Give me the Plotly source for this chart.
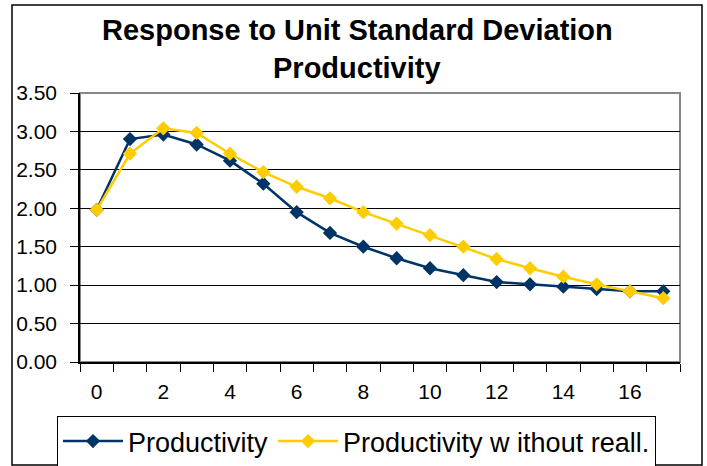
import plotly.graph_objects as go

periods = list(range(18))
productivity = [1.98, 2.90, 2.96, 2.83, 2.62, 2.32, 1.95, 1.68, 1.50, 1.35, 1.22, 1.13, 1.04, 1.01, 0.98, 0.95, 0.92, 0.92]
productivity_no_reall = [1.98, 2.71, 3.04, 2.98, 2.71, 2.47, 2.28, 2.13, 1.95, 1.80, 1.65, 1.50, 1.34, 1.22, 1.11, 1.01, 0.92, 0.83]
x_tick_labels = [str(v) for v in range(0, 17, 2)]
series_names = ["Productivity", "Productivity w ithout reall."]
title_lines = ["Response to Unit Standard Deviation", "Productivity"]

FONT = "Arial, 'Liberation Sans', sans-serif"
NAVY = "#003366"
YELLOW = "#FFCC00"

fig = go.Figure()
fig.add_trace(go.Scatter(x=periods, y=productivity, name=series_names[0], mode="lines+markers",
                         line=dict(color=NAVY, width=2.5),
                         marker=dict(symbol="diamond", size=11, color=NAVY)))
fig.add_trace(go.Scatter(x=periods, y=productivity_no_reall, name=series_names[1], mode="lines+markers",
                         line=dict(color=YELLOW, width=2.5),
                         marker=dict(symbol="diamond", size=11, color=YELLOW)))

L, R, T, B = 80, 27, 93, 104
W, H = 707, 466
pw, ph = W - L - R, H - T - B

def px(x):
    return (x - L) / pw

def py(y):
    return (H - B - y) / ph

fig.update_layout(
    width=W, height=H,
    margin=dict(l=L, r=R, t=T, b=B, autoexpand=False),
    paper_bgcolor="white", plot_bgcolor="white",
    font=dict(family=FONT, color="black", size=21),
    showlegend=True,
    legend=dict(orientation="h", x=px(57), y=py(416), xanchor="left", yanchor="top",
                bordercolor="black", borderwidth=1, font=dict(size=27, family=FONT),
                itemwidth=60, tracegroupgap=0, bgcolor="white"),
    xaxis=dict(range=[-0.5, 17.5], tickmode="array", tickvals=list(range(0, 17, 2)),
               ticktext=x_tick_labels, ticks="", showgrid=False, zeroline=False,
               showline=True, linecolor="black", linewidth=1.5, automargin=False,
               ticklabelstandoff=10,
               minor=dict(ticks="outside", tick0=-0.5, dtick=1, ticklen=8,
                          tickcolor="black", tickwidth=1, showgrid=False)),
    yaxis=dict(range=[0, 3.5], dtick=0.5, tickformat=".2f", ticks="outside", ticklen=8,
               tickcolor="black", showgrid=True, gridcolor="black", gridwidth=1,
               zeroline=False, showline=True, linecolor="black", linewidth=1.5,
               automargin=False, ticklabelstandoff=9),
    shapes=[
        dict(type="rect", xref="paper", yref="paper", x0=0, x1=1, y0=0, y1=1,
             line=dict(color="#888888", width=2), layer="below"),
        dict(type="rect", xref="paper", yref="paper", x0=px(12), x1=px(702), y0=py(5), y1=py(465),
             line=dict(color="black", width=1.5), layer="below"),
    ],
    annotations=[
        dict(text=f"<b>{title_lines[0]}</b>", xref="paper", yref="paper", x=px(357), y=py(30),
             xanchor="center", yanchor="middle", showarrow=False, font=dict(size=29, family=FONT)),
        dict(text=f"<b>{title_lines[1]}</b>", xref="paper", yref="paper", x=px(357), y=py(68),
             xanchor="center", yanchor="middle", showarrow=False, font=dict(size=29, family=FONT)),
    ],
)

fig.write_html("out.html", config={"displayModeBar": False})
with open("out.html", "r", encoding="utf-8") as f:
    html = f.read()
html = html.replace("<body>", '<body style="margin:0;padding:0;">', 1)
html = html.replace("<head>", "<head><style>html,body{margin:0;padding:0;}</style>", 1)
with open("out.html", "w", encoding="utf-8") as f:
    f.write(html)
